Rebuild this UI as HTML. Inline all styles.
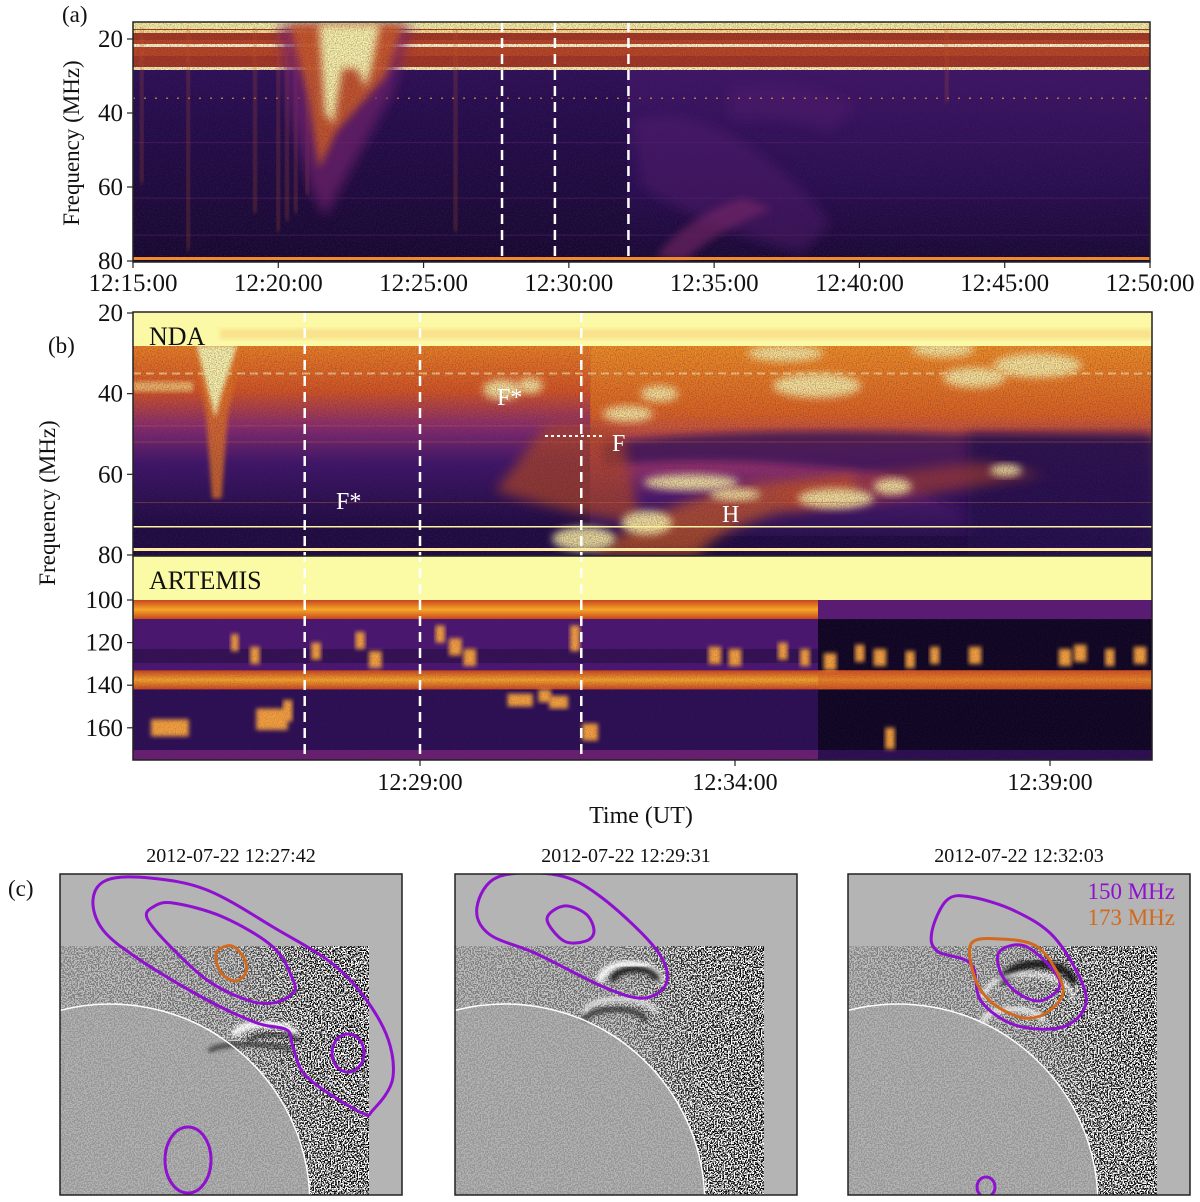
<!DOCTYPE html>
<html><head><meta charset="utf-8">
<style>
html,body{margin:0;padding:0;background:#fff;overflow:hidden;width:1200px;height:1202px;}
svg{display:block;overflow:hidden;}
text{font-family:"Liberation Serif","Times New Roman","DejaVu Serif",serif;}
</style></head>
<body>
<svg id="fig" width="1200" height="1202" viewBox="0 0 1200 1202" xmlns="http://www.w3.org/2000/svg">
<defs>
  <filter id="blur2" x="-20%" y="-20%" width="140%" height="140%"><feGaussianBlur stdDeviation="2"/></filter>
  <filter id="blur4" x="-30%" y="-30%" width="160%" height="160%"><feGaussianBlur stdDeviation="4"/></filter>
  <filter id="blur6" x="-30%" y="-30%" width="160%" height="160%"><feGaussianBlur stdDeviation="6"/></filter>
  <filter id="noiseDark" x="0" y="0" width="100%" height="100%">
    <feTurbulence type="fractalNoise" baseFrequency="0.85" numOctaves="1" seed="4"/>
    <feColorMatrix type="matrix" values="0 0 0 0 0.05  0 0 0 0 0.02  0 0 0 0 0.12  0 0 0 -2.2 1.35"/>
  </filter>
  <filter id="speckle" x="0" y="0" width="100%" height="100%">
    <feTurbulence type="fractalNoise" baseFrequency="0.7" numOctaves="1" seed="9"/>
    <feColorMatrix type="matrix" values="1 0 0 0 0  1 0 0 0 0  1 0 0 0 0  0 0 0 0 1"/>
    <feComponentTransfer><feFuncR type="discrete" tableValues="0 0 1 1"/><feFuncG type="discrete" tableValues="0 0 1 1"/><feFuncB type="discrete" tableValues="0 0 1 1"/></feComponentTransfer>
  </filter>
  <linearGradient id="spkGrad" x1="0" y1="0" x2="1" y2="0">
    <stop offset="0" stop-color="#fff" stop-opacity="0.12"/><stop offset="0.55" stop-color="#fff" stop-opacity="0.35"/><stop offset="0.8" stop-color="#fff" stop-opacity="0.85"/><stop offset="1" stop-color="#fff" stop-opacity="0.95"/>
  </linearGradient>
  <linearGradient id="gaPurple" x1="0" y1="0" x2="0" y2="1">
    <stop offset="0" stop-color="#3a1262"/><stop offset="0.35" stop-color="#260c4c"/><stop offset="1" stop-color="#15072c"/>
  </linearGradient>
  <linearGradient id="gaRight" x1="0" y1="0" x2="0" y2="1">
    <stop offset="0" stop-color="#44166a"/><stop offset="0.6" stop-color="#2c0e54"/><stop offset="1" stop-color="#180832"/>
  </linearGradient>
  <linearGradient id="gbNda" x1="0" y1="0" x2="0" y2="1">
    <stop offset="0" stop-color="#f0821e"/><stop offset="0.25" stop-color="#d8561e"/><stop offset="0.45" stop-color="#8a2c6c"/><stop offset="0.65" stop-color="#3f1468"/><stop offset="1" stop-color="#1e0a3e"/>
  </linearGradient>
  <linearGradient id="gbNdaR" x1="0" y1="0" x2="0" y2="1">
    <stop offset="0" stop-color="#f4901f"/><stop offset="0.35" stop-color="#e0651c"/><stop offset="0.6" stop-color="#a8386a"/><stop offset="0.8" stop-color="#4a176c"/><stop offset="1" stop-color="#26104c"/>
  </linearGradient>
  <linearGradient id="gbOrange" x1="0" y1="0" x2="0" y2="1">
    <stop offset="0" stop-color="#c8441e"/><stop offset="0.5" stop-color="#f6a628"/><stop offset="1" stop-color="#c8441e"/>
  </linearGradient>
  <clipPath id="clipA"><rect x="133" y="22" width="1017" height="240"/></clipPath>
  <clipPath id="clipB"><rect x="133" y="312" width="1019" height="448"/></clipPath>
</defs>
</svg>
<script>
// ---------------- data arrays ----------------
const ticksA_min = [0, 5, 10, 15, 20, 25, 30, 35];
const ticksA_lbl = ["12:15:00","12:20:00","12:25:00","12:30:00","12:35:00","12:40:00","12:45:00","12:50:00"];
const ticksAF = [20, 40, 60, 80];
const dashA_min = [12.7, 14.52, 17.05];
const streaksA_min = [0.3, 1.9, 4.2, 5.0, 5.3, 5.6, 6.0, 11.1, 28.0];
const streaksA_len = [42, 60, 50, 55, 52, 50, 45, 55, 20];

const ticksB_min = [14, 19, 24];
const ticksB_lbl = ["12:29:00","12:34:00","12:39:00"];
const ticksNF = [20, 40, 60, 80];
const ticksArtF = [100, 120, 140, 160];
const dashB_min = [12.17, 14.0, 16.56];

// NDA bright bursts: time (min after 12:15), freq (MHz), duration (min), bandwidth (MHz)
const ndaBurstT = [15.3, 15.75, 18.3, 19.0, 20.6, 21.5, 23.3, 16.6, 17.6, 19.8, 22.3, 23.8, 17.3, 17.8, 20.3, 22.8];
const ndaBurstF = [39, 38, 62, 65, 66, 63, 59, 76, 72, 30, 29, 33, 45, 40, 38, 36];
const ndaBurstD = [0.6, 0.4, 1.5, 0.8, 1.2, 0.6, 0.5, 1.0, 0.8, 1.2, 1.0, 1.4, 0.8, 0.6, 1.4, 1.0];
const ndaBurstB = [5, 4, 4, 3, 5, 4, 3, 6, 6, 4, 4, 6, 4, 4, 6, 5];

// ARTEMIS bursts
const artT = [10.03, 11.06, 11.38, 11.65, 12.35, 13.05, 13.29, 14.32, 14.56, 14.79, 15.59, 15.98, 16.46, 16.7, 18.68, 19.0, 19.76, 20.11, 20.51, 20.98, 21.3, 21.78, 22.17, 22.81, 24.24, 24.48, 24.95, 25.43, 21.46, 11.9, 16.2];
const artF = [160, 120, 126, 156, 124, 119, 128, 116, 122, 127, 147, 145, 118, 162, 126, 127, 124, 127, 129, 125, 127, 128, 126, 126, 127, 125, 127, 126, 165, 152, 148];
const artD = [0.6, 0.12, 0.15, 0.5, 0.15, 0.15, 0.2, 0.15, 0.2, 0.2, 0.4, 0.2, 0.15, 0.25, 0.2, 0.2, 0.15, 0.15, 0.2, 0.15, 0.2, 0.15, 0.15, 0.2, 0.2, 0.2, 0.15, 0.2, 0.15, 0.15, 0.3];
const artB = [8, 8, 8, 10, 8, 8, 8, 8, 8, 8, 6, 6, 12, 8, 8, 8, 8, 8, 8, 8, 8, 8, 8, 8, 8, 8, 8, 8, 10, 10, 6];

// ---------------- axes ----------------
const xA = m => 133 + m * (1017 / 35);
const yA = f => 39 + (f - 20) * 3.7;
const xB = m => 420 + (m - 14) * 63;
const yN = f => 313 + (f - 20) * 4.033;
const yR = f => 600 + (f - 100) * 2.13;

const svg = document.getElementById('fig');
const NS = 'http://www.w3.org/2000/svg';
function mk(tag, attrs, parent) {
  const e = document.createElementNS(NS, tag);
  for (const k in attrs) e.setAttribute(k, attrs[k]);
  (parent || svg).appendChild(e);
  return e;
}
function txt(s, attrs, parent) {
  const t = mk('text', attrs, parent);
  t.textContent = s; return t;
}

// ================= PANEL (a) =================
const gA = mk('g', {'clip-path': 'url(#clipA)'});


mk('rect', {x: 133, y: 22, width: 1017, height: 240, fill: 'url(#gaPurple)'}, gA);
mk('rect', {x: xA(17), y: 70, width: 1150 - xA(17), height: 192, fill: 'url(#gaRight)', opacity: 0.8}, gA);
mk('path', {d: `M${xA(17.2)},${yA(42)} Q${xA(19)},${yA(38)} ${xA(21)},${yA(48)} T${xA(24)},${yA(70)} L${xA(23)},${yA(78)} Q${xA(19.5)},${yA(70)} ${xA(17.5)},${yA(60)} Z`, fill: '#5a1e72', opacity: 0.45, filter: 'url(#blur6)'}, gA);
mk('path', {d: `M${xA(20.5)},${yA(33)} Q${xA(23)},${yA(30)} ${xA(25)},${yA(38)} L${xA(24)},${yA(45)} Q${xA(22)},${yA(40)} ${xA(20.5)},${yA(42)} Z`, fill: '#5a1e72', opacity: 0.4, filter: 'url(#blur6)'}, gA);
mk('path', {d: `M${xA(18)},${yA(79)} Q${xA(19)},${yA(68)} ${xA(21)},${yA(63)} L${xA(22)},${yA(66)} Q${xA(20)},${yA(72)} ${xA(19)},${yA(80)} Z`, fill: '#8a2c6a', opacity: 0.55, filter: 'url(#blur4)'}, gA);
mk('rect', {x: 133, y: 22, width: 1017, height: 7, fill: '#f9f3a0'}, gA);
mk('rect', {x: 133, y: 29, width: 1017, height: 41, fill: '#a8381f'}, gA);
mk('rect', {x: 133, y: 40, width: 1017, height: 16, fill: '#c84e1e', opacity: 0.7}, gA);
mk('rect', {x: 133, y: 30, width: 1017, height: 3, fill: '#fbe38a'}, gA);
mk('rect', {x: 133, y: 44, width: 1017, height: 3, fill: '#fdf6c8'}, gA);
mk('rect', {x: 133, y: 67, width: 1017, height: 3, fill: '#fdf3b0'}, gA);
mk('line', {x1: 133, y1: yA(36), x2: 1150, y2: yA(36), stroke: '#e8a03a', 'stroke-width': 1.5, 'stroke-dasharray': '2 9', opacity: 0.8}, gA);
[48, 63, 73].forEach(f => mk('line', {x1: 133, y1: yA(f), x2: 1150, y2: yA(f), stroke: '#5a1f6a', 'stroke-width': 1, opacity: 0.6}, gA));
streaksA_min.forEach((m, i) => {
  const s = mk('rect', {x: xA(m) - 1.5, y: 28, width: 3, height: streaksA_len[i] * 3.7, fill: '#c85a2a', opacity: 0.45, filter: 'url(#blur2)'}, gA);
  
  
});
const burstA = mk('g', {}, gA);


mk('path', {d: `M${xA(5.0)},${yA(16)} L${xA(9.6)},${yA(16)} L${xA(8.9)},${yA(35)} L${xA(7.5)},${yA(55)} L${xA(6.6)},${yA(68)} L${xA(6.1)},${yA(60)} L${xA(5.4)},${yA(40)} Z`, fill: '#7a2470', opacity: 0.7, filter: 'url(#blur6)'}, burstA);
mk('path', {d: `M${xA(5.4)},${yA(16)} L${xA(9.3)},${yA(16)} L${xA(8.7)},${yA(30)} L${xA(7.0)},${yA(45)} L${xA(6.4)},${yA(55)} L${xA(6.0)},${yA(35)} Z`, fill: '#d8601f', opacity: 0.85, filter: 'url(#blur4)'}, burstA);
mk('path', {d: `M${xA(6.4)},${yA(16)} L${xA(8.5)},${yA(16)} L${xA(8.2)},${yA(28)} L${xA(8.0)},${yA(33)} L${xA(7.7)},${yA(28)} L${xA(7.2)},${yA(28)} L${xA(6.9)},${yA(43)} L${xA(6.6)},${yA(40)} L${xA(6.5)},${yA(28)} Z`, fill: '#fbf5a6', filter: 'url(#blur4)'}, burstA);
mk('rect', {x: 133, y: 22, width: 1017, height: 240, filter: 'url(#noiseDark)', opacity: 0.5}, gA);
mk('rect', {x: 133, y: 257, width: 1017, height: 3, fill: '#f08a2a'}, gA);
dashA_min.forEach(m => {
  const l = mk('line', {x1: xA(m), y1: 22, x2: xA(m), y2: 262, stroke: '#fff', 'stroke-width': 2.5, 'stroke-dasharray': '10 6'}, gA);
  
  
});
const frA = mk('rect', {x: 133, y: 22, width: 1017, height: 240, fill: 'none', stroke: '#222', 'stroke-width': 1.5});


ticksA_min.forEach((m, i) => {
  mk('line', {x1: xA(m), y1: 262, x2: xA(m), y2: 268, stroke: '#222', 'stroke-width': 1.2});
  const t = txt(ticksA_lbl[i], {x: xA(m), y: 291, 'font-size': 25, 'text-anchor': 'middle', fill: '#111'});
  
  
});
ticksAF.forEach(f => {
  mk('line', {x1: 127, y1: yA(f), x2: 133, y2: yA(f), stroke: '#222', 'stroke-width': 1.2});
  const t = txt(String(f), {x: 123, y: yA(f) + 8, 'font-size': 25, 'text-anchor': 'end', fill: '#111'});
  
  
});
const ytA = txt('Frequency (MHz)', {x: 0, y: 0, 'font-size': 23, 'text-anchor': 'middle', fill: '#111', transform: 'translate(79,143) rotate(-90)'});


const la = txt('(a)', {x: 62, y: 22, 'font-size': 23, fill: '#111'});



// ================= PANEL (b) =================
const gB = mk('g', {'clip-path': 'url(#clipB)'});


mk('rect', {x: 133, y: 312, width: 1019, height: 244, fill: '#1e0a3e'}, gB);
mk('rect', {x: 133, y: 346, width: xB(16.7) - 133, height: 180, fill: 'url(#gbNda)'}, gB);
mk('rect', {x: xB(16.7), y: 346, width: 1152 - xB(16.7), height: 190, fill: 'url(#gbNdaR)'}, gB);
mk('path', {d: `M${xB(16.9)},${yN(52)} Q${xB(19.4)},${yN(48)} ${xB(22.4)},${yN(50)} L${xB(26)},${yN(51)} L${xB(26)},${yN(80)} L${xB(24)},${yN(80)} L${xB(21.4)},${yN(60)} Q${xB(18.9)},${yN(55)} ${xB(16.9)},${yN(58)} Z`, fill: '#2a0f55', opacity: 0.75, filter: 'url(#blur4)'}, gB);
mk('rect', {x: xB(22.7), y: yN(50), width: 1152 - xB(22.7), height: yN(80) - yN(50), fill: '#220b46', opacity: 0.8, filter: 'url(#blur6)'}, gB);
mk('path', {d: `M${xB(16.0)},${yN(48)} Q${xB(16.7)},${yN(46)} ${xB(17.2)},${yN(50)} L${xB(17.5)},${yN(72)} Q${xB(16.4)},${yN(70)} ${xB(15.2)},${yN(64)} Z`, fill: '#b8481e', opacity: 0.7, filter: 'url(#blur6)'}, gB);
mk('path', {d: `M${xB(16.7)},${yN(80)} Q${xB(17.9)},${yN(66)} ${xB(19.4)},${yN(62)} L${xB(20.9)},${yN(60)} L${xB(20.9)},${yN(66)} Q${xB(18.9)},${yN(70)} ${xB(18.4)},${yN(80)} Z`, fill: '#d8601e', opacity: 0.7, filter: 'url(#blur6)'}, gB);
mk('path', {d: `M${xB(19.6)},${yN(64)} Q${xB(20.9)},${yN(60)} ${xB(22.9)},${yN(57)} L${xB(23.9)},${yN(60)} Q${xB(21.9)},${yN(66)} ${xB(19.9)},${yN(69)} Z`, fill: '#c44a22', opacity: 0.55, filter: 'url(#blur6)'}, gB);
mk('path', {d: `M${xB(10.4)},${yN(28)} L${xB(11.2)},${yN(28)} L${xB(10.95)},${yN(45)} L${xB(10.85)},${yN(66)} L${xB(10.7)},${yN(66)} L${xB(10.6)},${yN(45)} Z`, fill: '#e8761e', opacity: 0.8, filter: 'url(#blur2)'}, gB);
mk('path', {d: `M${xB(10.45)},${yN(28)} L${xB(11.1)},${yN(28)} L${xB(10.85)},${yN(40)} L${xB(10.75)},${yN(46)} L${xB(10.65)},${yN(40)} Z`, fill: '#fbf5a6', filter: 'url(#blur2)'}, gB);
mk('rect', {x: 133, y: yN(37), width: 60, height: 10, fill: '#f6cb72', opacity: 0.8, filter: 'url(#blur2)'}, gB);
ndaBurstT.forEach((m, i) => {
  const e = mk('ellipse', {cx: xB(m), cy: yN(ndaBurstF[i]), rx: ndaBurstD[i] * 63 / 2, ry: ndaBurstB[i] * 4.03 / 2, fill: '#fbf0a0', opacity: 0.9, filter: 'url(#blur4)'}, gB);
  
  
});
mk('rect', {x: 133, y: 312, width: 1019, height: 34, fill: '#fbf8a6'}, gB);
mk('rect', {x: 220, y: 329, width: 932, height: 10, fill: '#f4b85a', opacity: 0.35, filter: 'url(#blur2)'}, gB);
mk('line', {x1: 133, y1: yN(35), x2: 1152, y2: yN(35), stroke: '#fbe8a0', 'stroke-width': 2, 'stroke-dasharray': '8 5', opacity: 0.7}, gB);
[48, 52, 67].forEach(f => mk('line', {x1: 133, y1: yN(f), x2: 1152, y2: yN(f), stroke: '#d86a3a', 'stroke-width': 1, opacity: 0.4}, gB));
mk('rect', {x: 133, y: 346, width: 1019, height: 210, filter: 'url(#noiseDark)', opacity: 0.5}, gB);
mk('line', {x1: 133, y1: yN(73), x2: 1152, y2: yN(73), stroke: '#fdf3a0', 'stroke-width': 1.5}, gB);
mk('rect', {x: 133, y: 548, width: 1019, height: 3, fill: '#fdeba0'}, gB);
mk('line', {x1: 545, y1: yN(50.5), x2: 605, y2: yN(50.5), stroke: '#fff', 'stroke-width': 2, 'stroke-dasharray': '3 3'}, gB);

// ARTEMIS
const gR = mk('g', {}, gB);


mk('rect', {x: 133, y: 556, width: 1019, height: 204, fill: '#2e1056'}, gR);
mk('rect', {x: 133, y: 556, width: 1019, height: yR(100) - 556, fill: '#fbfaa5'}, gR);
mk('rect', {x: 133, y: yR(100), width: 685, height: yR(109) - yR(100), fill: 'url(#gbOrange)'}, gR);
mk('rect', {x: 818, y: yR(100), width: 334, height: yR(109) - yR(100), fill: '#5a1c72'}, gR);
mk('rect', {x: 133, y: yR(109), width: 685, height: yR(133) - yR(109), fill: '#4b1670'}, gR);
mk('rect', {x: 133, y: yR(123), width: 685, height: 14, fill: '#2a0e46', opacity: 0.7}, gR);
mk('rect', {x: 818, y: yR(109), width: 334, height: yR(133) - yR(109), fill: '#0f0520'}, gR);
mk('rect', {x: 133, y: yR(133), width: 1019, height: yR(142) - yR(133), fill: 'url(#gbOrange)'}, gR);
mk('rect', {x: 818, y: yR(133), width: 334, height: yR(142) - yR(133), fill: '#d9601e', opacity: 0.45}, gR);
mk('rect', {x: 133, y: yR(142), width: 685, height: 760 - yR(142), fill: '#2c0e52'}, gR);
mk('rect', {x: 818, y: yR(142), width: 334, height: 760 - yR(142), fill: '#0f0520'}, gR);
mk('rect', {x: 133, y: 750, width: 685, height: 10, fill: '#6a1f70'}, gR);
mk('rect', {x: 818, y: 750, width: 334, height: 10, fill: '#2c0e50'}, gR);
artT.forEach((m, i) => {
  const r = mk('rect', {x: xB(m) - artD[i] * 63 / 2, y: yR(artF[i]) - artB[i] * 2.13 / 2, width: artD[i] * 63, height: artB[i] * 2.13, fill: '#f4a03a', filter: 'url(#blur2)'}, gR);
  
  
});
mk('rect', {x: 133, y: yR(109), width: 1019, height: 760 - yR(109), filter: 'url(#noiseDark)', opacity: 0.3}, gR);
dashB_min.forEach(m => {
  const l = mk('line', {x1: xB(m), y1: 312, x2: xB(m), y2: 760, stroke: '#fff', 'stroke-width': 2.5, 'stroke-dasharray': '10 6'}, gB);
  
  
});
const lN = txt('NDA', {x: 149, y: 345, 'font-size': 26, fill: '#111'});


const lArt = txt('ARTEMIS', {x: 149, y: 589, 'font-size': 26, fill: '#111'});


const anT = ['F*', 'F', 'F*', 'H'];
const anX = [497, 612, 336, 722];
const anY = [405, 451, 509, 522];
anT.forEach((s, i) => {
  const t = txt(s, {x: anX[i], y: anY[i], 'font-size': 24, fill: '#fff'});
  
  
});
const frB = mk('rect', {x: 133, y: 312, width: 1019, height: 448, fill: 'none', stroke: '#222', 'stroke-width': 1.5});


mk('line', {x1: 133, y1: 556, x2: 1152, y2: 556, stroke: '#222', 'stroke-width': 1.5});
ticksB_min.forEach((m, i) => {
  mk('line', {x1: xB(m), y1: 760, x2: xB(m), y2: 766, stroke: '#222', 'stroke-width': 1.2});
  const t = txt(ticksB_lbl[i], {x: xB(m), y: 790, 'font-size': 24, 'text-anchor': 'middle', fill: '#111'});
  
  
});
ticksNF.forEach(f => {
  mk('line', {x1: 127, y1: yN(f), x2: 133, y2: yN(f), stroke: '#222', 'stroke-width': 1.2});
  const t = txt(String(f), {x: 123, y: yN(f) + 8, 'font-size': 25, 'text-anchor': 'end', fill: '#111'});
  
  
});
ticksArtF.forEach(f => {
  mk('line', {x1: 127, y1: yR(f), x2: 133, y2: yR(f), stroke: '#222', 'stroke-width': 1.2});
  const t = txt(String(f), {x: 123, y: yR(f) + 8, 'font-size': 25, 'text-anchor': 'end', fill: '#111'});
  
  
});
const ytB = txt('Frequency (MHz)', {x: 0, y: 0, 'font-size': 23, 'text-anchor': 'middle', fill: '#111', transform: 'translate(55,503) rotate(-90)'});


const xtB = txt('Time (UT)', {x: 641, y: 823, 'font-size': 24, 'text-anchor': 'middle', fill: '#111'});


const lb = txt('(b)', {x: 48, y: 353, 'font-size': 23, fill: '#111'});



// ================= PANEL (c) =================
const lc = txt('(c)', {x: 8, y: 896, 'font-size': 23, fill: '#111'});


const imgTitles = ['2012-07-22 12:27:42', '2012-07-22 12:29:31', '2012-07-22 12:32:03'];
const imgX = [60, 455, 848];
const c150 = [
  [[[33,26],[47,6],[90,4],[147,16],[213,53],[280,96],[323,153],[333,203],[313,236],[300,238],[247,203],[233,173],[227,156],[197,149],[147,126],[80,86],[43,56]],
   [[87,44],[93,33],[113,29],[163,43],[213,73],[233,106],[233,119],[213,129],[187,126],[147,106],[107,69]]],
  [[[22,33],[43,3],[102,1],[146,23],[200,74],[212,107],[190,124],[151,114],[82,80],[34,60]],
   [[92,45],[109,32],[131,40],[139,57],[131,67],[109,67]]],
  [[[84,57],[99,26],[123,23],[167,37],[206,63],[235,111],[235,137],[211,154],[167,151],[133,127],[123,90],[89,77]],
   [[152,77],[177,72],[206,97],[211,114],[191,127],[167,117],[152,97]]]
];
const c150Ell = [[[288,179,16,19],[128,286,23,33]], [], [[138,313,9,10]]];
const c173 = [[[[158,76],[172,72],[184,84],[186,98],[176,107],[162,100],[156,86]]], [],
  [[[123,70],[152,65],[191,74],[215,114],[201,137],[177,144],[147,131],[128,107]]]];
const cmeArcs = [
  [[205,150,30,12,'#fff',8],[215,160,25,8,'#222',4],[190,170,40,8,'#333',5]],
  [[175,90,30,18,'#fff',8],[180,95,22,12,'#111',7],[160,135,30,12,'#333',6],[165,125,35,14,'#eee',5]],
  [[190,90,35,20,'#111',9],[180,100,45,25,'#fff',4],[165,135,30,14,'#eee',6]]
];
function smooth(pts) {
  let d = '';
  const n = pts.length;
  for (let i = 0; i < n; i++) {
    const p0 = pts[(i - 1 + n) % n], p1 = pts[i], p2 = pts[(i + 1) % n], p3 = pts[(i + 2) % n];
    if (i === 0) d += `M${p1[0]},${p1[1]}`;
    const c1 = [p1[0] + (p2[0] - p0[0]) / 6, p1[1] + (p2[1] - p0[1]) / 6];
    const c2 = [p2[0] - (p3[0] - p1[0]) / 6, p2[1] - (p3[1] - p1[1]) / 6];
    d += ` C${c1[0]},${c1[1]} ${c2[0]},${c2[1]} ${p2[0]},${p2[1]}`;
  }
  return d + 'Z';
}
const defs = svg.querySelector('defs');
imgX.forEach((ox, k) => {
  const oy = 874, W = 342, H = 321;
  const limbTop = oy + 330 - Math.sqrt(200 * 200 - 50 * 50);
  const limbRight = ox + 50 + Math.sqrt(200 * 200 - 9 * 9);
  const t = txt(imgTitles[k], {x: ox + W / 2, y: 862, 'font-size': 20, 'text-anchor': 'middle', fill: '#111'});
  
  
  const cp = mk('clipPath', {id: 'clipC' + k}, defs);
  mk('rect', {x: ox, y: oy, width: W, height: H}, cp);
  const cpo = mk('clipPath', {id: 'clipOff' + k}, defs);
  mk('path', {d: `M${ox},${oy + 72} H${ox + 309} V${oy + H} H${limbRight} A200,200 0 0,0 ${ox},${limbTop} Z`}, cpo);
  const mask = mk('mask', {id: 'spkMask' + k, maskUnits: 'userSpaceOnUse', x: ox, y: oy, width: W, height: H}, defs);
  mk('rect', {x: ox, y: oy + 72, width: 309, height: H - 72, fill: 'url(#spkGrad)'}, mask);
  const g = mk('g', {'clip-path': `url(#clipC${k})`});
  
  
  mk('rect', {x: ox, y: oy, width: W, height: H, fill: '#b4b4b4'}, g);
  mk('rect', {x: ox, y: oy + 72, width: 309, height: H - 72, fill: '#a9a9a9'}, g);
  mk('rect', {x: ox, y: oy + 72, width: 309, height: H - 72, filter: 'url(#speckle)', opacity: 0.1}, g);
  const sp = mk('g', {'clip-path': `url(#clipOff${k})`}, g);
  mk('rect', {x: ox, y: oy + 72, width: 309, height: H - 72, filter: 'url(#speckle)', mask: `url(#spkMask${k})`}, sp);
  cmeArcs[k].forEach(a => {
    mk('path', {d: `M${ox + a[0] - a[2]},${oy + a[1] + a[3]} A${a[2]},${a[3]} 0 0,1 ${ox + a[0] + a[2]},${oy + a[1] + a[3]}`, fill: 'none', stroke: a[4], 'stroke-width': a[5], opacity: 0.85, filter: 'url(#blur2)'}, g);
  });
  mk('rect', {x: ox + 309, y: oy + 72, width: W - 309, height: H - 72, fill: '#b4b4b4'}, g);
  const limb = mk('path', {d: `M${ox},${limbTop} A200,200 0 0,1 ${limbRight},${oy + H}`, fill: 'none', stroke: '#fff', 'stroke-width': 1.5}, g);
  
  
  c150[k].forEach(pts => {
    const p = mk('path', {d: smooth(pts.map(q => [ox + q[0], oy + q[1]])), fill: 'none', stroke: '#9010d0', 'stroke-width': 3}, g);
    
    
  });
  c150Ell[k].forEach(e => {
    const p = mk('ellipse', {cx: ox + e[0], cy: oy + e[1], rx: e[2], ry: e[3], fill: 'none', stroke: '#9010d0', 'stroke-width': 3}, g);
    
    
  });
  c173[k].forEach(pts => {
    const p = mk('path', {d: smooth(pts.map(q => [ox + q[0], oy + q[1]])), fill: 'none', stroke: '#d2691e', 'stroke-width': 3}, g);
    
    
  });
  const fr = mk('rect', {x: ox, y: oy, width: W, height: H, fill: 'none', stroke: '#222', 'stroke-width': 1.5});
  
  
});
const lg1 = txt('150 MHz', {x: 1175, y: 899, 'font-size': 23, 'text-anchor': 'end', fill: '#9010d0'});


const lg2 = txt('173 MHz', {x: 1175, y: 925, 'font-size': 23, 'text-anchor': 'end', fill: '#d2691e'});


</script>
</body></html>
